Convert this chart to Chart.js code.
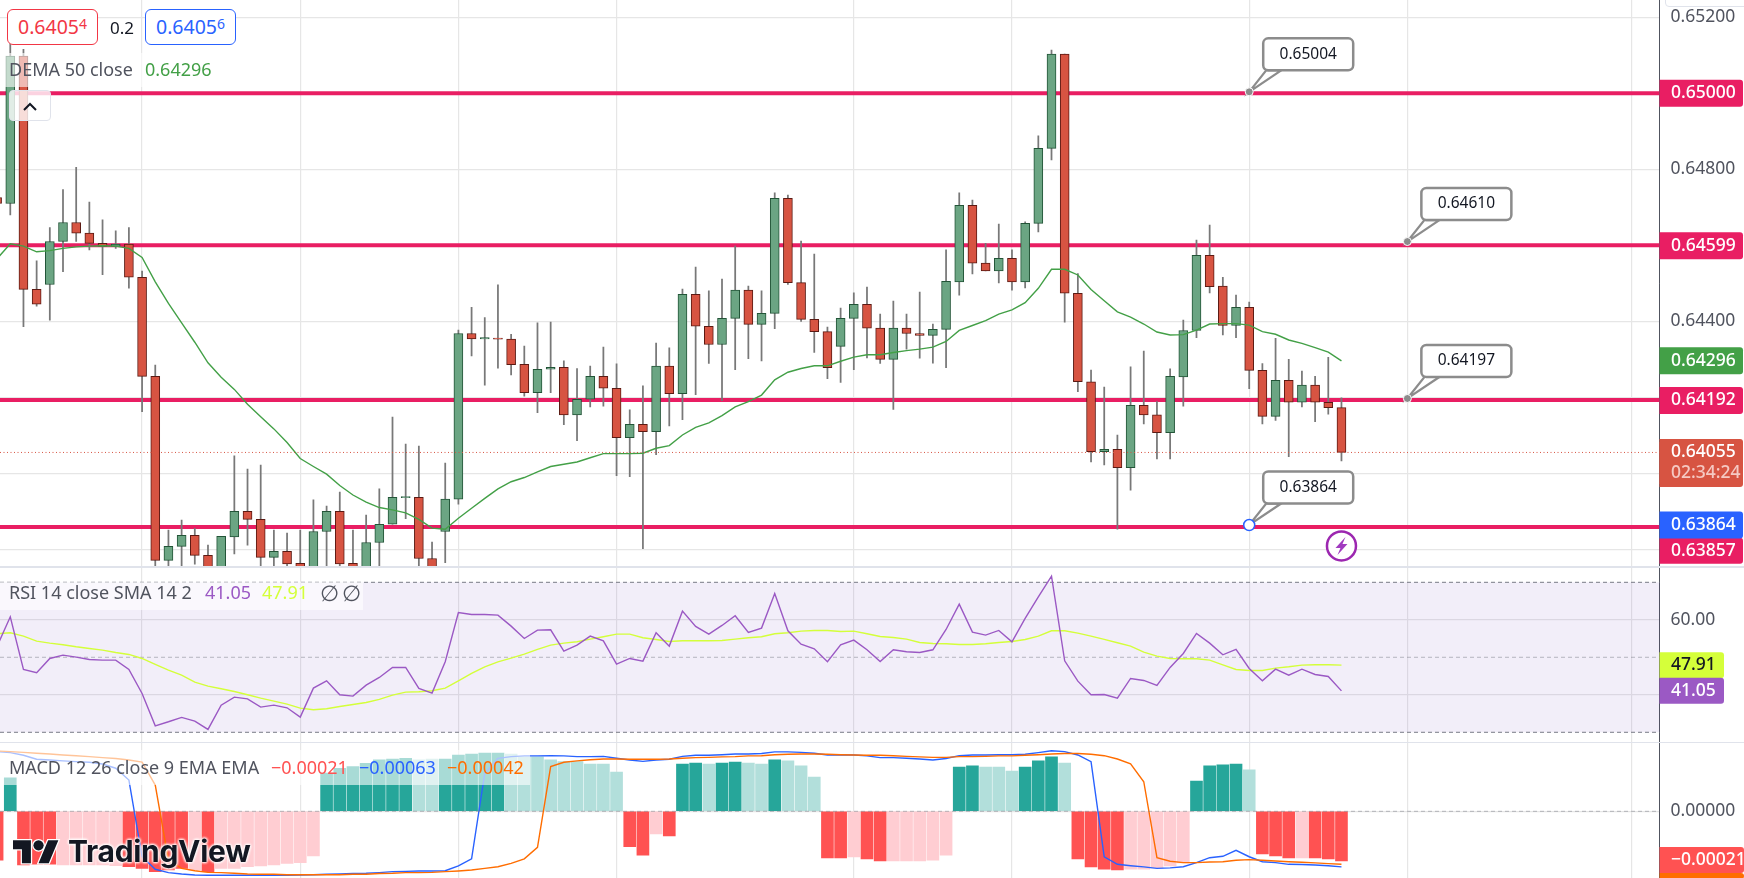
<!DOCTYPE html>
<html>
<head>
<meta charset="utf-8">
<title>AUD/USD chart</title>
<script src="https://cdn.jsdelivr.net/npm/chart.js@4/dist/chart.umd.js"></script>
<style>
  html, body { margin: 0; padding: 0; background: #fff; }
  #page { position: relative; width: 1744px; height: 878px; overflow: hidden; background: #fff; font-family: "Noto Sans", sans-serif; }
  canvas { position: absolute; left: 0; }
  .txt { position: absolute; white-space: nowrap; line-height: 1; font-size: 18px; transform: translateY(-50%); }
  .shade { position: absolute; background: rgba(255,255,255,0.6); }
  .divider { position: absolute; left: 0; width: 1744px; background: #E0E3EB; }
  .trade { position: absolute; top: 9px; width: 89px; height: 34px; border-radius: 6px; background: #fff; border: 1px solid; text-align: center; line-height: 34px; font-size: 19.5px; }
  .trade sup { font-size: 14px; line-height: 0; vertical-align: 5px; }
  #collapse { position: absolute; left: 9px; top: 90px; width: 42px; height: 31px; box-sizing: border-box; border: 1px solid #E0E3EB; border-radius: 4px; background: rgba(255,255,255,0.8); }
  #topBtn { position: absolute; left: 1665px; top: -12px; width: 90px; height: 17px; background: #fff; border: 1px solid #E0E3EB; border-radius: 4px; }
  #logo { position: absolute; left: 13px; top: 835px; }
  #logoText { position: absolute; left: 68px; top: 851px; font-family: Inter, sans-serif; font-weight: 700; font-size: 30px; color: #131722; line-height: 1; transform: translateY(-50%); text-shadow: 0 0 3px #fff, 0 0 3px #fff, 0 0 3px #fff, 0 0 3px #fff; letter-spacing: -0.3px; }
</style>
</head>
<body>
<div id="page">
  <canvas id="mainPane" style="top:0"></canvas>
  <canvas id="rsiPane" style="top:567px"></canvas>
  <canvas id="macdPane" style="top:743px"></canvas>
  <div class="divider" style="top:565.5px;height:2px"></div>
  <div class="divider" style="top:741.5px;height:1.5px"></div>

  <div id="topBtn"></div>

  <div class="trade" style="left:7px;border-color:#F23645;color:#F23645">0.6405<sup>4</sup></div>
  <div class="txt" style="left:110px;top:27px;font-size:17px;color:#131722">0.2</div>
  <div class="trade" style="left:145px;border-color:#2962FF;color:#2962FF">0.6405<sup>6</sup></div>

  <div class="shade" style="left:0;top:53px;width:218px;height:34px"></div>
  <div class="txt" style="left:9px;top:69px;color:#50535E">DEMA 50 close</div>
  <div class="txt" style="left:145px;top:69px;color:#43A047">0.64296</div>
  <div id="collapse">
    <svg width="40" height="29"><path d="M14 19 L20 13 L26 19" fill="none" stroke="#131722" stroke-width="2"/></svg>
  </div>

  <div class="shade" style="left:0;top:582px;width:363px;height:28px"></div>
  <div class="txt" style="left:9px;top:592px;color:#50535E">RSI 14 close SMA 14 2</div>
  <div class="txt" style="left:205px;top:592px;color:#9B59C4">41.05</div>
  <div class="txt" style="left:262px;top:592px;color:#D4FF3A">47.91</div>
  <div class="txt" style="left:320px;top:592px;font-size:22px;color:#50535E">∅</div>
  <div class="txt" style="left:342px;top:592px;font-size:22px;color:#50535E">∅</div>

  <div class="shade" style="left:0;top:750px;width:530px;height:35px"></div>
  <div class="txt" style="left:9px;top:767px;color:#50535E">MACD 12 26 close 9 EMA EMA</div>
  <div class="txt" style="left:271px;top:767px;color:#FF5252">−0.00021</div>
  <div class="txt" style="left:359px;top:767px;color:#2962FF">−0.00063</div>
  <div class="txt" style="left:447px;top:767px;color:#FF6D00">−0.00042</div>

  <svg id="logo" width="46" height="36" viewBox="0 0 36 28" style="overflow:visible">
    <g fill="#131722" stroke="#fff" stroke-width="2" paint-order="stroke">
      <path d="M14 22H7V11H0V4h14v18zM28 22h-8l7.5-18h8L28 22z"/>
      <circle cx="20" cy="8" r="4"/>
    </g>
  </svg>
  <div id="logoText">TradingView</div>
</div>

<script>
// prices are in 0.00001 units, first entry is the bar cut off at the left edge
const opens = [64726,64710,65098,64484,64497,64610,64660,64632,64605,64597,64603,64516,64255,63771,63808,63837,63784,63740,63833,63900,63879,63779,63795,63763,63730,63847,63900,63763,63730,63818,63866,63936,63937,63776,63847,63932,64368,64354,64356,64353,64287,64212,64274,64279,64154,64195,64255,64224,64094,64129,64110,64282,64210,64471,64387,64339,64408,64482,64392,64421,64724,64502,64405,64373,64334,64408,64445,64382,64300,64382,64368,64363,64379,64504,64705,64553,64533,64566,64504,64658,64855,65103,64474,64241,64057,64063,64015,64179,64154,64107,64254,64376,64574,64493,64389,64437,64271,64150,64245,64187,64232,64187,64173];
const highs = [64760,65132,65116,64559,64647,64747,64805,64714,64667,64638,64647,64532,64285,63851,63877,63855,63811,63834,64046,64011,64022,63851,63843,63851,63930,63914,63951,63851,63890,63959,64148,64077,64072,63819,64027,64377,64437,64410,64496,64366,64335,64396,64398,64296,64276,64282,64332,64288,64167,64230,64343,64330,64485,64543,64480,64511,64598,64493,64480,64738,64732,64611,64577,64385,64435,64475,64490,64419,64453,64419,64477,64393,64588,64738,64719,64605,64656,64588,64662,64888,65114,65103,64526,64272,64227,64101,64280,64322,64189,64275,64403,64614,64653,64516,64469,64451,64289,64355,64300,64269,64255,64305,64199];
const lows = [64700,64680,64386,64440,64403,64531,64610,64588,64523,64592,64487,64162,63740,63740,63740,63761,63700,63700,63788,63811,63750,63750,63750,63730,63700,63750,63750,63730,63700,63750,63866,63881,63750,63750,63765,63919,64309,64232,64277,64259,64203,64160,64212,64128,64086,64175,64177,63994,63991,63802,64049,64125,64141,64207,64289,64191,64273,64302,64296,64381,64497,64400,64318,64249,64239,64273,64304,64289,64168,64327,64303,64290,64278,64469,64525,64533,64501,64482,64488,64635,64825,64398,64215,64030,64022,63853,63956,64130,64038,64038,64177,64357,64475,64364,64357,64223,64130,64139,64044,64175,64136,64156,64033];
const closes = [64710,65098,64484,64445,64610,64660,64632,64605,64597,64603,64516,64255,63771,63808,63837,63784,63730,63834,63900,63879,63779,63795,63762,63740,63847,63900,63762,63740,63818,63866,63937,63939,63776,63745,63932,64368,64354,64357,64353,64286,64212,64274,64279,64154,64195,64255,64224,64094,64129,64110,64282,64210,64471,64387,64339,64408,64482,64392,64421,64724,64502,64405,64373,64278,64408,64445,64382,64300,64382,64368,64363,64379,64505,64705,64553,64533,64566,64504,64658,64855,65103,64474,64241,64057,64063,64015,64179,64154,64107,64255,64376,64574,64491,64389,64437,64271,64150,64245,64187,64232,64187,64173,64055];
const dema = [64565,64604,64598,64583,64586,64592,64596,64598,64599,64598,64592,64568,64504,64447,64396,64345,64291,64253,64221,64182,64149,64117,64081,64039,64018,63998,63968,63943,63924,63910,63904,63896,63879,63856,63853,63882,63908,63934,63959,63978,63989,64004,64018,64024,64030,64041,64052,64052,64052,64053,64066,64073,64101,64121,64133,64152,64175,64189,64206,64246,64266,64276,64283,64283,64295,64306,64312,64312,64318,64323,64327,64332,64347,64376,64389,64402,64419,64430,64449,64487,64537,64537,64522,64484,64454,64425,64411,64393,64372,64364,64365,64377,64393,64394,64394,64390,64373,64366,64351,64342,64331,64319,64296];

const rsi = [52.98,60.8,46.76,45.87,49.69,50.58,50.04,49.42,49.24,49.24,46.76,40.36,31.73,32.8,33.96,32.98,30.76,37.24,39.38,38.93,36.71,37.24,36.53,34.04,41.78,43.73,40,39.64,42.58,44.62,47.29,47.29,41.69,40.44,48.8,61.96,61.42,61.42,61.24,58.31,55.02,57.24,57.33,51.64,53.24,55.64,54.4,48.18,49.69,48.98,56.53,52.98,62.31,58.22,56.18,58.49,61.07,56.62,57.78,67.02,57.07,53.51,52.27,48.8,53.33,54.58,52,48.89,52,51.47,51.29,52,57.42,64.18,56.71,55.91,57.16,54.13,60.36,66.13,71.64,49.07,43.64,40,40.09,39.11,44.36,43.82,42.49,47.29,51.02,56.36,53.78,50.67,52.09,47.02,43.73,46.84,45.24,46.84,45.42,44.89,41.05];
const rsiMa = [56.27,56.53,55.64,54.31,53.78,53.33,52.8,52.36,51.91,51.29,50.76,49.69,48.09,46.58,45.24,43.38,42.31,41.6,40.89,40,39.11,38.31,37.51,36.44,36,36.27,36.89,37.42,37.96,38.76,39.91,40.71,40.8,41.07,41.78,43.73,45.69,47.47,48.8,49.78,50.84,52.09,53.24,53.78,54.13,54.84,55.47,56.18,56.18,55.2,54.76,54.22,54.4,54.4,54.4,54.49,54.84,55.2,55.47,56.27,56.53,56.98,57.16,57.16,56.89,56.98,56.27,55.56,55.29,54.84,53.96,53.69,53.6,53.42,53.42,53.6,53.96,54.22,54.76,55.64,57.07,57.07,56.44,55.64,54.76,53.87,52.98,51.38,50.31,49.69,49.6,49.6,49.24,48,46.76,46.49,46.49,47.11,47.47,47.91,48,48,47.91];

// macd values in 0.00001 units
const macdHist = [-20.6,14.1,-22.7,-22.3,-22.3,-22.7,-22.7,-22.7,-22.7,-23,-23.4,-24.1,-25.5,-24.8,-24.1,-24.8,-25.5,-24.1,-24.1,-23.4,-23.1,-22.7,-22,-21.7,-18.9,16.1,18.2,18.9,20.3,21.7,22.1,22.4,21.7,22.1,22.1,23.8,24.2,24.6,24.6,24.2,23,23,21.7,21,21,20,20,16.6,-14.9,-18.5,-9.6,-10.4,20,20.4,20,20.4,20.8,20.4,20,21.7,21.3,19.2,14.5,-19.7,-19.7,-19.3,-20.1,-21,-21,-21,-21,-20.6,-18.5,18.7,19.2,18.7,18.7,17,18.7,21.3,23,20.4,-20.1,-23.5,-24.4,-24.8,-24.4,-24.4,-23.9,-23.1,-21.8,12.8,19.2,19.6,20,17.5,-18,-18.9,-19.7,-19.7,-19.7,-20.1,-21];
// bars that are fading (pale colour), by bar number
const macdFading = [4,5,6,7,8,14,16,17,18,19,20,21,22,23,31,32,38,39,40,41,42,43,44,45,46,49,53,56,57,59,60,61,64,67,68,69,70,71,74,75,76,80,85,86,87,88,89,94,98];
const macdLine = [25.2,24.8,23.7,22,21.7,21.3,21,20.7,20,18.2,13.2,-19.2,-24.5,-25.9,-26.5,-26.9,-27,-27,-27,-27,-27,-27,-27,-26.9,-26.8,-26.6,-26.5,-26.3,-26.2,-25.9,-25.5,-25.4,-25.2,-25.2,-25.1,-23.1,-20.1,16.1,22.4,23.1,23.4,23.4,23.5,23.4,23.1,23.1,23.2,22.4,21.7,21.1,21.7,22,23.2,23.7,23.7,23.9,24.2,24.2,24.4,25.1,25.1,24.9,24.5,23.8,23.8,23.8,23.4,22.7,22.7,22.4,22.1,21.7,22.3,23.5,23.8,23.8,23.9,23.9,24.1,24.8,25.6,25.2,23.8,21,-19.2,-22.4,-23,-23.5,-24.1,-23.9,-23.4,-21.7,-19.6,-19,-16.5,-19.2,-21.3,-21.7,-22.4,-22.5,-22.7,-23,-23.5];
const macdSignal = [25.5,25.2,24.9,24.5,24.2,23.8,23.5,23.1,22.7,22.3,21.7,20.8,11.1,-20.6,-24.1,-25.1,-25.8,-25.9,-26.2,-26.5,-26.6,-26.6,-26.8,-26.8,-26.8,-26.8,-26.8,-26.6,-26.6,-26.3,-26.2,-25.9,-25.9,-25.8,-25.5,-25.2,-24.8,-24.1,-23.4,-22,-20.1,-15.2,18.9,20.7,21.3,21.8,22.1,22.1,22,22,22,22.1,22.4,22.7,22.8,23,23.1,23.4,23.5,23.9,24.1,24.2,24.2,24.1,23.9,23.8,23.7,23.7,23.5,23.2,23,22.8,22.8,23.1,23.1,23.2,23.4,23.4,23.7,23.9,24.2,24.4,24.4,24.1,23.5,22.1,20.1,12.5,-19.6,-21.1,-21.7,-21.7,-21.4,-21.3,-20.7,-20.4,-20.7,-21,-21.3,-21.5,-21.8,-22.1,-22.4];

const levelPrices = [65000, 64600, 64193, 63859];
const lastPrice = 64055;
const alertPrice = 63809;
const priceTicks = [65200, 65000, 64800, 64600, 64400, 64200, 64000, 63800];
const rsiTicks = [60, 40];
const macdTicks = [0];
// hour bars on which the vertical grid lines fall
const gridBars = [10, 22, 34, 46, 64, 76, 94, 106, 123];

const barNumbers = opens.map((_, i) => i - 1);
const xMin = -0.78, xMax = 125.13;

Chart.defaults.font.family = '"Noto Sans", sans-serif';
Chart.defaults.font.size = 17.5;
Chart.defaults.color = '#50535E';

const GRID = '#E6E6E6';
const AXIS_WIDTH = 84.5;

const noPadding = axis => {
  axis.paddingTop = 0;
  axis.paddingBottom = 0;
  axis.paddingLeft = 0;
  axis.paddingRight = 0;
};

const xAxis = () => ({
  type: 'linear', min: xMin, max: xMax, offset: false,
  ticks: { display: false },
  border: { display: false },
  grid: { color: GRID, lineWidth: 1.2, drawTicks: false, offset: false },
  afterBuildTicks: axis => { axis.ticks = gridBars.map(value => ({ value })); },
  afterFit: axis => { axis.height = 0; noPadding(axis); },
});

const yAxis = (min, max, ticks, digits, scaleBy) => ({
  position: 'right', min, max,
  border: { color: '#50535E', width: 1 },
  grid: { color: GRID, lineWidth: 1.2, drawTicks: false },
  ticks: {
    padding: 11, crossAlign: 'near', autoSkip: false,
    callback: value => (value / scaleBy).toFixed(digits),
  },
  afterBuildTicks: axis => { axis.ticks = ticks.map(value => ({ value })); },
  afterFit: axis => { axis.width = AXIS_WIDTH; noPadding(axis); },
});

const series = values => values.map((y, i) => ({ x: barNumbers[i], y }));

const hLine = (chart, value, color, width, dash) => {
  const { ctx, chartArea, scales } = chart;
  const y = scales.y.getPixelForValue(value);
  ctx.save();
  ctx.strokeStyle = color;
  ctx.lineWidth = width;
  ctx.setLineDash(dash);
  ctx.beginPath();
  ctx.moveTo(chartArea.left, y);
  ctx.lineTo(chartArea.right, y);
  ctx.stroke();
  ctx.restore();
};

const badge = (ctx, text, y, color, textColor, width, height) => {
  ctx.save();
  ctx.fillStyle = color;
  ctx.beginPath();
  ctx.roundRect(1659.5, y - height / 2, width, height, [0, 3, 3, 0]);
  ctx.fill();
  ctx.fillStyle = textColor;
  ctx.font = '500 17.5px "Noto Sans", sans-serif';
  ctx.textBaseline = 'middle';
  ctx.fillText(text, 1671, y);
  ctx.restore();
};

const callout = (ctx, x, y, text, selected) => {
  const left = x + 14, top = y - 53.5, w = 90, h = 32;
  ctx.save();
  ctx.strokeStyle = '#8C8C8C';
  ctx.fillStyle = '#fff';
  ctx.lineWidth = 2.2;
  ctx.beginPath();
  ctx.moveTo(x, y);
  ctx.lineTo(left + 3, top + h);
  ctx.lineTo(left + 18, top + h);
  ctx.closePath();
  ctx.fill();
  ctx.stroke();
  ctx.lineWidth = 2.5;
  ctx.beginPath();
  ctx.roundRect(left, top, w, h, 5);
  ctx.fill();
  ctx.stroke();
  ctx.fillStyle = '#131722';
  ctx.font = '15.5px "Noto Sans", sans-serif';
  ctx.textAlign = 'center';
  ctx.textBaseline = 'middle';
  ctx.fillText(text, left + w / 2, top + h / 2);
  ctx.beginPath();
  if (selected) {
    ctx.arc(x, y, 5.5, 0, Math.PI * 2);
    ctx.fillStyle = '#fff';
    ctx.strokeStyle = '#2962FF';
    ctx.lineWidth = 1.5;
    ctx.fill();
    ctx.stroke();
  } else {
    ctx.arc(x, y, 4, 0, Math.PI * 2);
    ctx.fillStyle = '#8C8C8C';
    ctx.strokeStyle = '#fff';
    ctx.lineWidth = 1;
    ctx.fill();
    ctx.stroke();
  }
  ctx.restore();
};

const mainOverlay = {
  id: 'mainOverlay',
  afterDatasetsDraw(chart) {
    hLine(chart, lastPrice, '#D75442', 1, [1, 2.5]);
  },
  afterDraw(chart) {
    const { ctx, scales } = chart;
    const x = scales.x, y = scales.y;
    callout(ctx, x.getPixelForValue(94), y.getPixelForValue(65004), '0.65004');
    callout(ctx, x.getPixelForValue(106), y.getPixelForValue(64610), '0.64610');
    callout(ctx, x.getPixelForValue(106), y.getPixelForValue(64197), '0.64197');
    callout(ctx, x.getPixelForValue(94), y.getPixelForValue(63864), '0.63864', true);

    // alert icon under the last bar
    const cx = x.getPixelForValue(101), cy = y.getPixelForValue(alertPrice);
    ctx.save();
    ctx.strokeStyle = '#9C27B0';
    ctx.fillStyle = '#fff';
    ctx.lineWidth = 2.5;
    ctx.beginPath();
    ctx.arc(cx, cy, 14.5, 0, Math.PI * 2);
    ctx.fill();
    ctx.stroke();
    ctx.fillStyle = '#A13BC0';
    ctx.beginPath();
    [[4, -9], [-6, 2], [-1, 2], [-4, 9], [6, -2], [1, -2]].forEach((p, i) => {
      if (i === 0) ctx.moveTo(cx + p[0], cy + p[1]);
      else ctx.lineTo(cx + p[0], cy + p[1]);
    });
    ctx.closePath();
    ctx.fill();
    ctx.restore();

    const at = value => y.getPixelForValue(value);
    badge(ctx, '0.65000', at(65000), '#E91E63', '#fff', 83.5, 27);
    badge(ctx, '0.64599', at(64599), '#E91E63', '#fff', 83.5, 27);
    badge(ctx, '0.64296', at(64296), '#43A047', '#fff', 83.5, 27);
    badge(ctx, '0.64192', at(64192), '#E91E63', '#fff', 83.5, 27);
    // last price box also carries the bar countdown
    const lastY = at(lastPrice);
    badge(ctx, '', lastY + 10.5, '#D75442', '#fff', 83.5, 48);
    badge(ctx, '0.64055', lastY, '#D75442', '#fff', 83.5, 21);
    badge(ctx, '02:34:24', lastY + 21, '#D75442', '#F5C9C3', 83.5, 21);
    badge(ctx, '0.63857', 550.7, '#E91E63', '#fff', 83.5, 26);
    badge(ctx, '0.63864', at(63864), '#2962FF', '#fff', 83.5, 27);
  },
};

const rsiOverlay = {
  id: 'rsiOverlay',
  beforeDatasetsDraw(chart) {
    const { ctx, chartArea, scales } = chart;
    const top = scales.y.getPixelForValue(70), bottom = scales.y.getPixelForValue(30);
    ctx.save();
    ctx.fillStyle = 'rgba(126,87,194,0.1)';
    ctx.fillRect(chartArea.left, top, chartArea.right - chartArea.left, bottom - top);
    ctx.restore();
    hLine(chart, 70, '#787B86', 1, [4, 3]);
    hLine(chart, 50, 'rgba(120,123,134,0.5)', 1, [4, 3]);
    hLine(chart, 30, '#787B86', 1, [4, 3]);
  },
  afterDraw(chart) {
    const { ctx, scales } = chart;
    const at = value => scales.y.getPixelForValue(value);
    badge(ctx, '47.91', at(47.91), '#D5FF3A', '#131722', 64.5, 26);
    badge(ctx, '41.05', at(41.05), '#9B59C4', '#fff', 64.5, 26);
  },
};

const macdOverlay = {
  id: 'macdOverlay',
  afterDatasetsDraw(chart) {
    hLine(chart, 0, 'rgba(120,123,134,0.5)', 1, [4, 3]);
  },
  afterDraw(chart) {
    const { ctx, scales } = chart;
    const y = scales.y.getPixelForValue(-21);
    badge(ctx, '−0.00021', y - 1, '#FF5252', '#fff', 84.5, 26);
    badge(ctx, '', y + 15, '#FF6D00', '#fff', 84.5, 6);
  },
};

const baseOptions = (yOpts) => ({
  responsive: false,
  animation: false,
  events: [],
  layout: { padding: 0 },
  plugins: { legend: { display: false }, tooltip: { enabled: false } },
  scales: { x: xAxis(), y: yOpts },
});

const makeCanvas = (id, height) => {
  const canvas = document.getElementById(id);
  canvas.width = 1744;
  canvas.height = height;
  canvas.style.width = '1744px';
  canvas.style.height = height + 'px';
  return canvas;
};

// main price pane
const upColor = '#6BA583', downColor = '#D75442';
const upBorder = '#225437', downBorder = '#5B1A13';
const isUp = opens.map((o, i) => closes[i] >= o);

new Chart(makeCanvas('mainPane', 566), {
  type: 'bar',
  data: {
    datasets: [
      ...levelPrices.map(price => ({
        type: 'line',
        data: [{ x: xMin, y: price }, { x: xMax, y: price }],
        borderColor: '#E91E63', borderWidth: 4, pointRadius: 0, order: 5,
      })),
      {
        type: 'bar',
        data: barNumbers.map((x, i) => ({ x, y: [lows[i], highs[i]] })),
        backgroundColor: '#787878',
        barThickness: 1.1, grouped: false, order: 4,
      },
      {
        type: 'bar',
        data: barNumbers.map((x, i) => ({ x, y: [opens[i], closes[i]] })),
        backgroundColor: isUp.map(up => up ? upColor : downColor),
        borderColor: isUp.map(up => up ? upBorder : downBorder),
        borderWidth: 1, borderSkipped: false,
        barThickness: 9, grouped: false, order: 3,
      },
      {
        type: 'line',
        data: series(dema),
        borderColor: '#43A047', borderWidth: 1.4, pointRadius: 0, tension: 0, order: 2,
      },
    ],
  },
  options: baseOptions(yAxis(63756.2, 65245.6, priceTicks, 5, 100000)),
  plugins: [mainOverlay],
});

// rsi pane
new Chart(makeCanvas('rsiPane', 175), {
  type: 'line',
  data: {
    datasets: [
      { data: series(rsiMa), borderColor: '#D4FF3A', borderWidth: 1.4, pointRadius: 0, tension: 0, order: 2 },
      { data: series(rsi), borderColor: '#9B59C4', borderWidth: 1.4, pointRadius: 0, tension: 0, order: 1 },
    ],
  },
  options: baseOptions(yAxis(27.41, 74.08, rsiTicks, 2, 1)),
  plugins: [rsiOverlay],
});

// macd pane
const histColor = macdHist.map((v, i) => {
  const fading = macdFading.includes(barNumbers[i]);
  if (v >= 0) return fading ? '#B2DFDB' : '#26A69A';
  return fading ? '#FFCDD2' : '#FF5252';
});

new Chart(makeCanvas('macdPane', 135), {
  type: 'bar',
  data: {
    datasets: [
      {
        type: 'bar',
        data: series(macdHist),
        backgroundColor: histColor,
        barThickness: 12, grouped: false, order: 3,
      },
      { type: 'line', data: series(macdLine), borderColor: '#2962FF', borderWidth: 1.4, pointRadius: 0, tension: 0, order: 2 },
      { type: 'line', data: series(macdSignal), borderColor: '#FF6D00', borderWidth: 1.4, pointRadius: 0, tension: 0, order: 1 },
    ],
  },
  options: baseOptions(yAxis(-28.18, 28.86, macdTicks, 5, 100000)),
  plugins: [macdOverlay],
});
</script>
</body>
</html>
